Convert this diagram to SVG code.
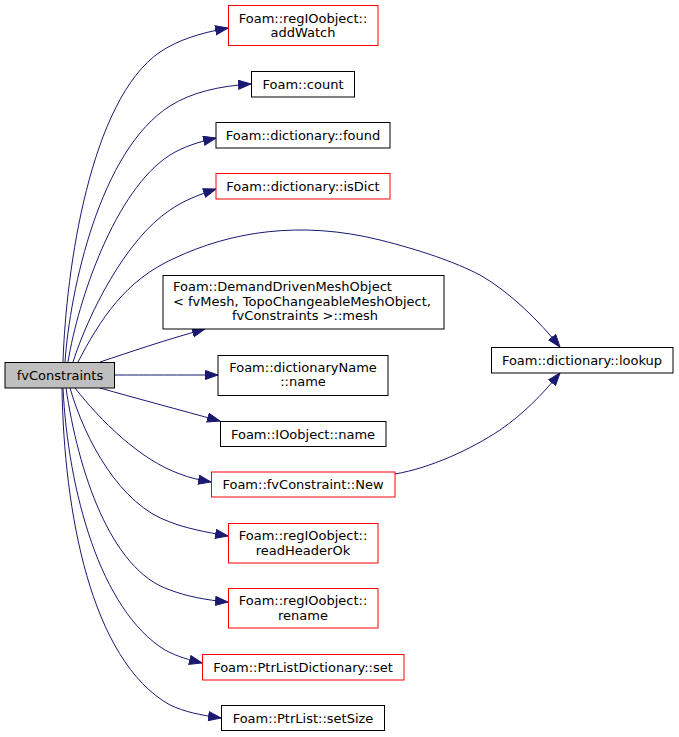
<svg xmlns="http://www.w3.org/2000/svg" width="679" height="737" viewBox="0 0 679 737">
<style>
text{font-family:"DejaVu Sans",sans-serif;font-size:13px;fill:#000;text-anchor:middle}
.n rect{fill:#fff;stroke:#000;stroke-width:1}
.r rect{stroke:#ff0000}
.g rect{fill:#bfbfbf}
#edges path{fill:none;stroke:#191970;stroke-width:1;marker-end:url(#ah)}
</style>
<defs>
<marker id="ah" markerUnits="userSpaceOnUse" markerWidth="14" markerHeight="12" refX="13" refY="5" orient="auto">
<path d="M0.5,0.5 L13,5 L0.5,9.5 Z" fill="#191970" stroke="#191970" stroke-width="1"/>
</marker>
</defs>
<rect width="679" height="737" fill="#fff"/>
<g id="edges">
<path d="M63,362 C66,270 90,100 160,52 C178,40 200,33 228,28"/>
<path d="M65,362 C70,290 100,150 170,106 C192,92 220,86 251,84"/>
<path d="M68,362 C78,300 115,190 170,155 C183,147 198,142 216,138"/>
<path d="M73,362 C88,315 125,240 170,210 C183,201 198,195 216,189"/>
<path d="M78,362 C100,320 125,280 175,258 C230,232 300,220 380,240 C420,250 455,262 480,275 C510,292 540,322 560,347"/>
<path d="M100,362 C130,352 165,340 205,329"/>
<path d="M115,375 C145,375 180,375 218,375"/>
<path d="M100,388 C135,398 180,410 220,421"/>
<path d="M75,388 C100,420 140,460 180,474 C190,478 200,480 211,482"/>
<path d="M70,388 C85,440 120,505 170,522 C185,528 205,532 228,536"/>
<path d="M66,388 C78,470 110,570 170,590 C186,596 205,600 228,602"/>
<path d="M63,388 C68,490 100,610 165,650 C178,657 190,660 202,663"/>
<path d="M62,388 C64,510 90,660 170,705 C185,712 200,715 221,718"/>
<path d="M395,474 C430,468 470,450 500,430 C522,415 542,395 560,373"/>
</g>
<g id="fvConstraints" class="n g"><rect x="5" y="362.5" width="109.5" height="25.5"/><text x="60" y="380">fvConstraints</text></g>
<g id="addWatch" class="n r"><rect x="228.5" y="5.5" width="149.5" height="40"/><text x="303" y="22.5">Foam::regIOobject::</text><text x="303" y="37">addWatch</text></g>
<g id="count" class="n"><rect x="251.5" y="71.5" width="103" height="25.5"/><text x="303" y="88.5">Foam::count</text></g>
<g id="found" class="n"><rect x="216" y="122.5" width="174" height="25.5"/><text x="303" y="139.5">Foam::dictionary::found</text></g>
<g id="isDict" class="n r"><rect x="216" y="173.5" width="174" height="25.5"/><text x="303" y="190.5">Foam::dictionary::isDict</text></g>
<g id="mesh" class="n"><rect x="163" y="275.5" width="281" height="53.5"/><text x="173" y="291" style="text-anchor:start">Foam::DemandDrivenMeshObject</text><text x="173" y="305.5" style="text-anchor:start">&lt; fvMesh, TopoChangeableMeshObject,</text><text x="305" y="320">fvConstraints &gt;::mesh</text></g>
<g id="dictName" class="n"><rect x="218" y="355.5" width="170" height="40"/><text x="303" y="371.5">Foam::dictionaryName</text><text x="303" y="386">::name</text></g>
<g id="ioName" class="n"><rect x="220.5" y="421.5" width="165.5" height="25"/><text x="303" y="438.5">Foam::IOobject::name</text></g>
<g id="New" class="n r"><rect x="211.5" y="472" width="183.5" height="25"/><text x="303" y="489">Foam::fvConstraint::New</text></g>
<g id="readHeaderOk" class="n r"><rect x="228.5" y="523.5" width="149.5" height="39.5"/><text x="303" y="540">Foam::regIOobject::</text><text x="303" y="554.5">readHeaderOk</text></g>
<g id="rename" class="n r"><rect x="228.5" y="588.5" width="149.5" height="39.5"/><text x="303" y="605">Foam::regIOobject::</text><text x="303" y="619.5">rename</text></g>
<g id="set" class="n r"><rect x="202.5" y="654.5" width="201.5" height="25.5"/><text x="303" y="671.5">Foam::PtrListDictionary::set</text></g>
<g id="setSize" class="n"><rect x="221.5" y="705.5" width="163" height="25"/><text x="303" y="722.5">Foam::PtrList::setSize</text></g>
<g id="lookup" class="n"><rect x="491.5" y="347.5" width="181.5" height="25.5"/><text x="582" y="365">Foam::dictionary::lookup</text></g>
</svg>
